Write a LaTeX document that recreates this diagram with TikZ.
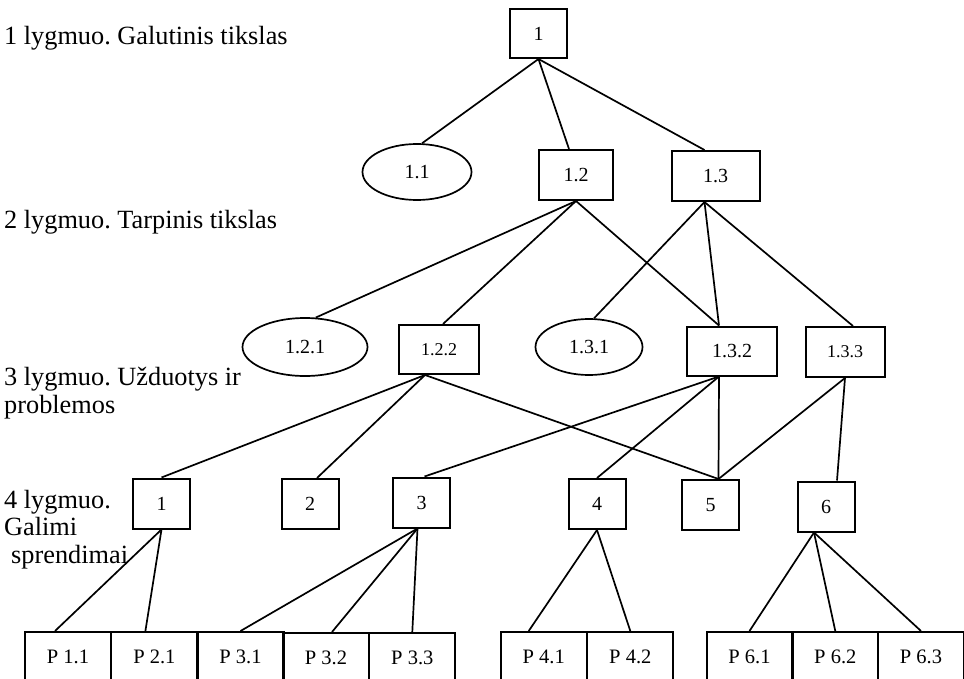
\documentclass[tikz,border=0pt]{standalone}
\usepackage{fontspec}
\setmainfont{Liberation Serif}
\usetikzlibrary{shapes.geometric}
\frenchspacing

\begin{document}
\begin{tikzpicture}[x=1pt, y=-1pt,
  box/.style={draw, line width=2pt, inner sep=0pt, font=\fontsize{20}{20}\selectfont},
  smallbox/.style={box, font=\fontsize{18}{18}\selectfont},
  oval/.style={draw, ellipse, line width=1.7pt, inner sep=0pt, font=\fontsize{20}{20}\selectfont},
  sbox/.style={box, minimum width=57, minimum height=50},
  pbox/.style={box, minimum width=86, minimum height=50, font=\fontsize{20.5}{20.5}\selectfont},
  level/.style={anchor=base west, align=left, inner sep=0pt, font=\fontsize{26.3}{27.5}\selectfont},
  link/.style={line width=1.7pt}]
  \clip (0,0) rectangle (964,679);

  % Levels (base = last line)
  \node[level] (t1) at (4,45) {1 lygmuo. Galutinis tikslas};
  \node[level] (t2) at (4,229) {2 lygmuo. Tarpinis tikslas};
  \node[level] (t3) at (4,413) {3 lygmuo. Užduotys ir\\problemos};
  \node[level] (t4) at (4,563) {4 lygmuo.\\Galimi\\\hspace*{7pt}sprendimai};

  % Goals
  \node[box, minimum width=57, minimum height=49] (n1) at (538.5,33.5) {1};
  \node[oval, minimum width=109, minimum height=56] (n11) at (417,172) {1.1};
  \node[box, minimum width=74, minimum height=50] (n12) at (576,175) {1.2};
  \node[box, minimum width=88, minimum height=50] (n13) at (715.5,176) {1.3};
  \node[oval, minimum width=125, minimum height=58] (n121) at (305,347) {1.2.1};
  \node[smallbox, minimum width=80, minimum height=49] (n122) at (439,349.5) {1.2.2};
  \node[oval, minimum width=107, minimum height=56] (n131) at (589,347) {1.3.1};
  \node[box, minimum width=90, minimum height=49] (n132) at (732,351) {1.3.2};
  \node[smallbox, minimum width=79, minimum height=50] (n133) at (845,352) {1.3.3};

  % Solutions
  \node[sbox] (s1) at (161.5,503.5) {1};
  \node[sbox] (s2) at (310,504) {2};
  \node[sbox] (s3) at (421.5,502.5) {3};
  \node[sbox] (s4) at (597,504) {4};
  \node[sbox] (s5) at (710.5,505) {5};
  \node[sbox] (s6) at (826,506.5) {6};

  \node[pbox] (p11) at (68,657) {P 1.1};
  \node[pbox] (p21) at (154.4,657) {P 2.1};
  \node[pbox] (p31) at (240.5,657) {P 3.1};
  \node[pbox] (p32) at (326,658) {P 3.2};
  \node[pbox] (p33) at (412.3,658) {P 3.3};
  \node[pbox] (p41) at (543.7,657) {P 4.1};
  \node[pbox] (p42) at (630.3,657) {P 4.2};
  \node[pbox] (p61) at (749.5,657) {P 6.1};
  \node[pbox] (p62) at (835.3,657) {P 6.2};
  \node[pbox] (p63) at (921,657) {P 6.3};

  % Links
  \draw[link] (n1.south) -- (n11.80);
  \draw[link] (n1.south) -- ([xshift=-7pt]n12.north);
  \draw[link] (n1.south) -- ([xshift=-11pt]n13.north);

  \draw[link] (n12.south) -- (n121.70);
  \draw[link] (n12.south) -- ([xshift=4pt]n122.north);
  \draw[link] (n12.south) -- ([xshift=-13pt]n132.north);
  \draw[link] ([xshift=-11pt]n13.south) -- (n131.80);
  \draw[link] ([xshift=-11pt]n13.south) -- ([xshift=-13pt]n132.north);
  \draw[link] ([xshift=-11pt]n13.south) -- ([xshift=8pt]n133.north);

  \draw[link] ([xshift=-14pt]n122.south) -- (s1.north);
  \draw[link] ([xshift=-14pt]n122.south) -- ([xshift=7pt]s2.north);
  \draw[link] ([xshift=-14pt]n122.south) -- ([xshift=8pt]s5.north);
  \draw[link] ([xshift=-13pt]n132.south) -- ([xshift=3pt]s3.north);
  \draw[link] ([xshift=-13pt]n132.south) -- (s4.north);
  \draw[link] ([xshift=-13pt]n132.south) -- ([xshift=8pt]s5.north);
  \draw[link] (n133.south) -- ([xshift=8pt]s5.north);
  \draw[link] (n133.south) -- ([xshift=11pt]s6.north);

  \draw[link] (s1.south) -- ([xshift=-13pt]p11.north);
  \draw[link] (s1.south) -- ([xshift=-9pt]p21.north);
  \draw[link] ([xshift=-4pt]s3.south) -- (p31.north);
  \draw[link] ([xshift=-4pt]s3.south) -- ([xshift=6pt]p32.north);
  \draw[link] ([xshift=-4pt]s3.south) -- (p33.north);
  \draw[link] (s4.south) -- ([xshift=-15pt]p41.north);
  \draw[link] (s4.south) -- (p42.north);
  \draw[link] ([xshift=-12pt]s6.south) -- (p61.north);
  \draw[link] ([xshift=-12pt]s6.south) -- (p62.north);
  \draw[link] ([xshift=-12pt]s6.south) -- (p63.north);
\end{tikzpicture}
\end{document}
